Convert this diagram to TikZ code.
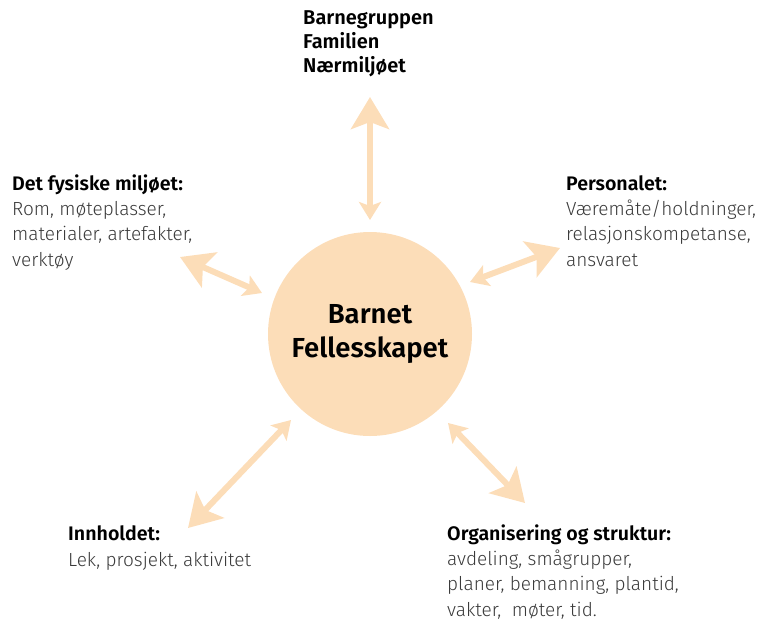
\documentclass[tikz,border=0pt]{standalone}
\usepackage{fontspec}
\setmainfont{Fira Sans}[UprightFont={* Light},BoldFont={* SemiBold}]
\usetikzlibrary{arrows.meta}
\definecolor{peach}{HTML}{FCDDB8}
\definecolor{bodygray}{HTML}{3A3A3A}
\tikzset{
  big/.tip={Stealth[length=32pt,width=38pt,inset=7pt]},
  small/.tip={Stealth[length=18pt,width=22pt,inset=4pt]},
  link/.style={draw=peach,line width=6pt},
  label/.style={anchor=base west,inner sep=0pt,align=left,text=bodygray,
    font=\fontsize{19}{25.3}\selectfont}
}
\newcommand{\hd}[1]{{\fontsize{19.6}{25.3}\selectfont\bfseries\color{black}#1}}
\begin{document}
\begin{tikzpicture}[x=1pt,y=-1pt]
\useasboundingbox (0,0) rectangle (762,622);
\node[circle,fill=peach,minimum size=204pt,inner sep=0pt,align=center,
  font=\fontsize{27.5}{35}\bfseries\selectfont] (core) at (370,334) {Barnet\\Fellesskapet};
\node[label,font=\fontsize{20}{24}\bfseries\selectfont,text=black] (top) at (303,72) {Barnegruppen\\Familien\\Nærmiljøet};
\node[label] (fys) at (12,266) {\hd{Det fysiske miljøet:}\\Rom, møteplasser,\\materialer, artefakter,\\verktøy};
\node[label] (pers) at (566,266) {\hd{Personalet:}\\Væremåte/holdninger,\\relasjonskompetanse,\\ansvaret};
\node[label] (inn) at (68,566) {\hd{Innholdet:}\\Lek, prosjekt, aktivitet};
\node[label] (org) at (447,616) {\hd{Organisering og struktur:}\\avdeling, smågrupper,\\planer, bemanning, plantid,\\vakter,\ \ møter, tid.};
\coordinate (t1) at (370,97);  \coordinate (t2) at (370,220);
\coordinate (l1) at (180,257); \coordinate (l2) at (262,293);
\coordinate (r1) at (560,248); \coordinate (r2) at (470,282);
\coordinate (b1) at (188,528); \coordinate (b2) at (291,420);
\coordinate (c1) at (525,503); \coordinate (c2) at (448,423);
\draw[link,{big}-{small}] (t1) -- (t2);
\draw[link,{big}-{small}] (l1) -- (l2);
\draw[link,{big}-{small}] (r1) -- (r2);
\draw[link,{big}-{small}] (b1) -- (b2);
\draw[link,{big}-{small}] (c1) -- (c2);
\end{tikzpicture}
\end{document}
